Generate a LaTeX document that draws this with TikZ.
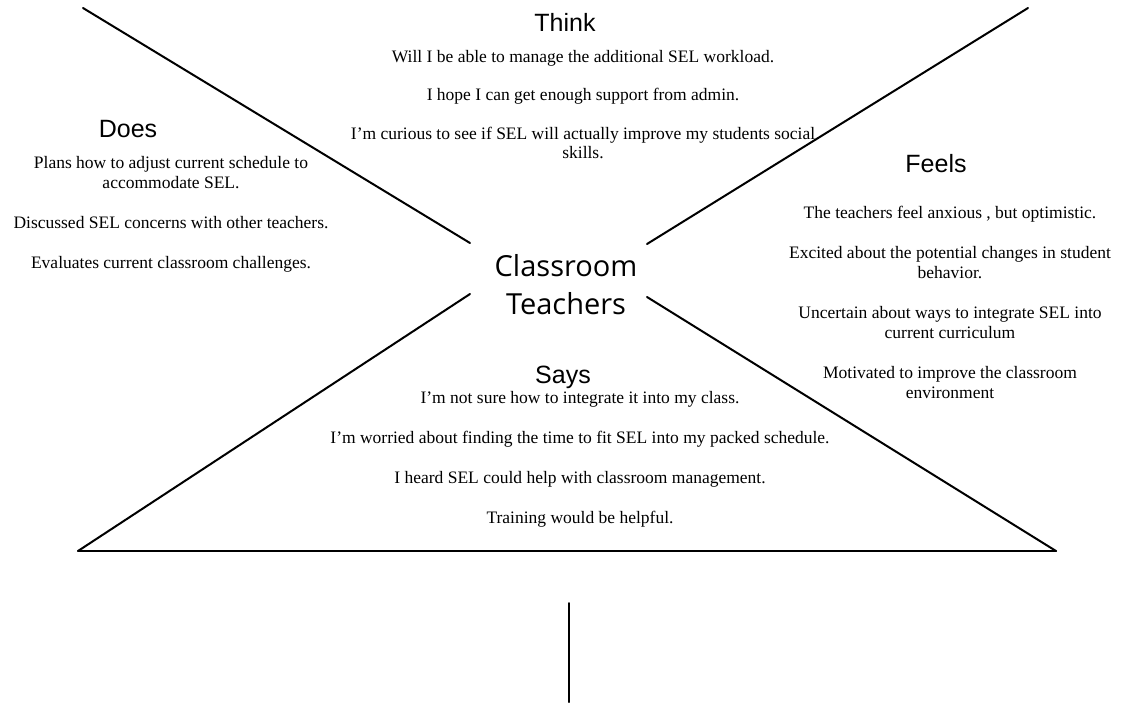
\documentclass[tikz,border=0pt]{standalone}
\usepackage{fontspec}
\setmainfont{Liberation Serif}
\newfontfamily\headfont{Liberation Sans}
\newfontfamily\hubfont{Open Sans}
\tikzset{
  body/.style={align=center, inner sep=0pt, font=\fontsize{17.5}{20}\selectfont},
  head/.style={inner sep=0pt, font=\headfont\fontsize{25}{28}\selectfont},
  edge/.style={line width=2pt, line cap=round}
}
\newcommand{\gap}{\\[20pt]}
\begin{document}
\begin{tikzpicture}[x=1pt, y=-1pt]
        \useasboundingbox (0,0) rectangle (1133,702);
        % Punkty końcowe linii
        \coordinate (tlA) at (83,8);
        \coordinate (tlB) at (470,243);
        \coordinate (trA) at (1028,8);
        \coordinate (trB) at (647,244);
        \coordinate (blA) at (470,294);
        \coordinate (blB) at (78,551);
        \coordinate (brA) at (647,297);
        \coordinate (brB) at (1056,551);
        \coordinate (stemA) at (569,603);
        \coordinate (stemB) at (569,702);

        % Linie (X i podstawa)
        \draw[edge] (tlA) -- (tlB);
        \draw[edge] (trA) -- (trB);
        \draw[edge] (blA) -- (blB);
        \draw[edge] (brA) -- (brB);
        \draw[edge] (blB) -- (brB);
        \draw[edge] (stemA) -- (stemB);

        % Środek
        \node[align=center, inner sep=0pt, font=\hubfont\fontsize{29}{38}\selectfont] (hub) at (566,285) {Classroom\\Teachers};

        % Think
        \node[head] (think) at (565,22) {Think};
        \node[body, anchor=north, font=\fontsize{17.5}{19.2}\selectfont] (thinkTxt) at (583,50) {Will I be able to manage the additional SEL workload.\\[19.2pt]
          I hope I can get enough support from admin.\\[19.2pt]
          I'm curious to see if SEL will actually improve my students social\\skills.};

        % Does
        \node[head] (does) at (128,129) {Does};
        \node[body, anchor=north] (doesTxt) at (171,156) {Plans how to adjust current schedule to\\accommodate SEL.\gap
          Discussed SEL concerns with other teachers.\gap
          Evaluates current classroom challenges.};

        % Feels
        \node[head] (feels) at (936,164) {Feels};
        \node[body, anchor=north] (feelsTxt) at (950,206) {The teachers feel anxious , but optimistic.\gap
          Excited about the potential changes in student\\behavior.\gap
          Uncertain about ways to integrate SEL into\\current curriculum\gap
          Motivated to improve the classroom\\environment};

        % Says
        \node[head] (says) at (563,377) {Says};
        \node[body, anchor=north] (saysTxt) at (580,391) {I'm not sure how to integrate it into my class.\gap
          I'm worried about finding the time to fit SEL into my packed schedule.\gap
          I heard SEL could help with classroom management.\gap
          Training would be helpful.};
\end{tikzpicture}
\end{document}
